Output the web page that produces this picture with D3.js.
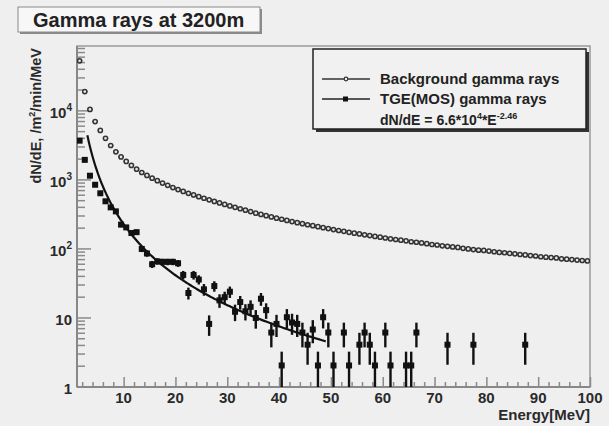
<!DOCTYPE html>
<html><head><meta charset="utf-8">
<script src="https://cdn.jsdelivr.net/npm/d3@7"></script>
<style>
html,body{margin:0;padding:0;background:#efefef;}
svg{display:block;font-family:"Liberation Sans",Arial,Helvetica,sans-serif;font-weight:bold;}
</style></head><body>
<svg id="chart" width="609" height="426"></svg>
<script>
// Background gamma-ray spectrum, 1 MeV bins
const bgEnergy = d3.range(1.5, 100, 1);
const bgFlux = [53000,19000,10500,7000,5200,4000,3150,2550,2150,1850,
  1620,1430,1280,1160,1060,975,900,835,775,725,
  680,640,605,572,542,514,488,464,441,420,
  400,382,364,348,330,316,303,291,279,269,
  259,249,240,232,224,217,210,203,197,191,
  185,180,174,169,165,160,156,152,148,144,
  140,137,134,131,127,125,122,119,116,114,
  111,109,107,105,102,100,98,96,95,93,
  91,89,88,86,85,83,82,80,79,77,
  76,75,74,72,71,70,69,68,67,66];

// TGE (MOS) gamma-ray spectrum with statistical errors
const tgeEnergy = [1.5,2.5,3.5,4.5,5.5,6.5,7.5,8.5,9.5,10.5,
  11.5,12.5,13.5,14.5,15.5,16.5,17.5,18.5,19.5,20.5,
  21.5,22.5,23.5,24.5,25.5,26.5,27.5,28.5,29.5,30.5,
  31.5,32.5,33.5,34.5,35.5,36.5,37.5,38.5,39.5,40.5,
  41.5,42.5,43.5,44.5,45.5,46.5,47.5,48.5,49.5,50.5,
  52.5,53.5,55.5,56.5,57.5,58.5,60.5,61.5,64.5,65.5,
  66.5,72.5,77.5,87.5];
const tgeFlux = [3700,1950,1150,850,640,490,400,350,225,205,
  170,175,100,86,60,66,65,65,65,62,
  42,23,42,36,26,8.2,29,18,20,24,
  12.3,17,12.5,14.5,10,19,13,6.15,8.2,2.05,
  10.25,8.6,8.2,6.15,4.1,6.8,2.05,10.25,6.15,2.05,
  6.15,2.05,4.1,6.15,4.1,2.05,6.15,2.05,2.05,2.05,
  6.15,4.1,4.1,4.1];
const tgeError = [150,80,60,45,35,30,25,22,18,16,
  14,14,10,9,7,7,7,7,7,7,
  6,4.5,6,5.5,5,2.7,5,4,4,4.5,
  3.3,3.8,3.3,3.5,3,4,3.3,2.4,2.9,1.2,
  3.2,2.9,2.9,2.4,2,2.5,1.2,3.2,2.4,1.2,
  2.4,1.2,2,2.4,2,1.2,2.4,1.2,1.2,1.2,
  2.4,2,2,2];

// Power-law fit dN/dE = 6.6*10^4 * E^-2.46
const fitNorm = 6.6e4, fitIndex = -2.46, fitRange = [3, 49];

const xTicks = [10,20,30,40,50,60,70,80,90,100];
const yTicks = [1,10,100,1000,10000];
const yTickBase = ["1","10","10","10","10"];
const yTickExp = ["","","2","3","4"];

const svg = d3.select("#chart");
const L = 77, R = 590, T = 46, B = 387;
const x = d3.scaleLinear().domain([1,100]).range([L,R]);
const y = d3.scaleLog().domain([1,8.7e4]).range([B,T]);

svg.append("rect").attr("width",609).attr("height",426).attr("fill","#efefef");

svg.append("defs").append("clipPath").attr("id","plotclip")
  .append("rect").attr("x",L).attr("y",T).attr("width",R-L).attr("height",B-T);

// frame
svg.append("rect").attr("x",L).attr("y",T).attr("width",R-L).attr("height",B-T)
  .attr("fill","#efefef").attr("stroke","#9a9a9a").attr("stroke-width",1.5);

// x axis: major ticks every 10, minor every 2 (inside)
const xAxisG = svg.append("g").attr("transform",`translate(0,${B})`);
xAxisG.call(d3.axisBottom(x).tickValues(d3.range(2,101,2)).tickSize(0).tickFormat(""));
xAxisG.select(".domain").remove();
xAxisG.selectAll(".tick line").remove();
xAxisG.selectAll(".tick").append("line")
  .attr("y1",0).attr("y2",d => xTicks.includes(d) ? -10 : -5)
  .attr("stroke","#8a8a8a").attr("stroke-width",1.5);
svg.append("g").selectAll("text").data(xTicks).join("text")
  .attr("x",d=>x(d)).attr("y",403).attr("text-anchor","middle")
  .attr("font-size",15).attr("fill","#2a2a2a").text(d=>d);

// y axis: log ticks inside
const yMinor = [];
yTicks.forEach(d => { for (let k=2;k<=9;k++){ const v=k*d; if (v<=8.7e4) yMinor.push(v);} });
const yAxisG = svg.append("g");
yAxisG.selectAll("line.minor").data(yMinor).join("line")
  .attr("x1",L).attr("x2",L+8).attr("y1",d=>y(d)).attr("y2",d=>y(d))
  .attr("stroke","#8a8a8a").attr("stroke-width",1.5);
yAxisG.selectAll("line.major").data(yTicks).join("line")
  .attr("x1",L).attr("x2",L+14).attr("y1",d=>y(d)).attr("y2",d=>y(d))
  .attr("stroke","#8a8a8a").attr("stroke-width",1.5);
const yl = yAxisG.selectAll("text").data(yTicks).join("text")
  .attr("x",72).attr("y",d=>y(d)+7).attr("text-anchor","end")
  .attr("font-size",15).attr("fill","#2a2a2a");
yl.append("tspan").text((d,i)=>yTickBase[i]);
yl.append("tspan").attr("font-size",10).attr("dy",-7).text((d,i)=>yTickExp[i]);

// axis lines
svg.append("line").attr("x1",L).attr("x2",L).attr("y1",T).attr("y2",B)
  .attr("stroke","#888").attr("stroke-width",2);
svg.append("line").attr("x1",L).attr("x2",R).attr("y1",B).attr("y2",B)
  .attr("stroke","#888").attr("stroke-width",2);

// axis titles
svg.append("text").attr("x",R).attr("y",420).attr("text-anchor","end")
  .attr("font-size",15).attr("fill","#2a2a2a").text("Energy[MeV]");
const yt = svg.append("text").attr("transform","translate(41,48) rotate(-90)")
  .attr("text-anchor","end").attr("font-size",14.5).attr("fill","#2a2a2a");
yt.append("tspan").text("dN/dE, /m");
yt.append("tspan").attr("font-size",9).attr("dy",-6).text("2");
yt.append("tspan").attr("dy",6).text("/min/MeV");

const plot = svg.append("g").attr("clip-path","url(#plotclip)");

// background spectrum: open markers with bin-width bars
const bg = bgEnergy.map((e,i)=>({e, v:bgFlux[i]}));
plot.append("g").selectAll("line").data(bg).join("line")
  .attr("x1",d=>x(d.e-0.5)).attr("x2",d=>x(d.e+0.5))
  .attr("y1",d=>y(d.v)).attr("y2",d=>y(d.v))
  .attr("stroke","#333").attr("stroke-width",1.6);
plot.append("g").selectAll("circle").data(bg).join("circle")
  .attr("cx",d=>x(d.e)).attr("cy",d=>y(d.v)).attr("r",2.1)
  .attr("fill","#e6e6e6").attr("stroke","#333").attr("stroke-width",1.5);

// fit curve
const fitPts = d3.range(fitRange[0], fitRange[1]+0.001, 0.25).map(e=>[e, fitNorm*Math.pow(e, fitIndex)]);
plot.append("path").datum(fitPts)
  .attr("d", d3.line().x(d=>x(d[0])).y(d=>y(d[1])))
  .attr("fill","none").attr("stroke","#111").attr("stroke-width",2.2);

// TGE spectrum: filled squares with error bars
const tge = tgeEnergy.map((e,i)=>({e, v:tgeFlux[i], err:tgeError[i]}));
const tg = plot.append("g");
tg.selectAll("line.ey").data(tge).join("line").attr("class","ey")
  .attr("x1",d=>x(d.e)).attr("x2",d=>x(d.e))
  .attr("y1",d=>y(Math.max(d.v-d.err,0.5))).attr("y2",d=>y(d.v+d.err))
  .attr("stroke","#111").attr("stroke-width",2.4);
tg.selectAll("line.ex").data(tge).join("line").attr("class","ex")
  .attr("x1",d=>x(d.e-0.5)).attr("x2",d=>x(d.e+0.5))
  .attr("y1",d=>y(d.v)).attr("y2",d=>y(d.v))
  .attr("stroke","#111").attr("stroke-width",1.6);
tg.selectAll("rect").data(tge).join("rect")
  .attr("x",d=>x(d.e)-3).attr("y",d=>y(d.v)-3).attr("width",6).attr("height",6)
  .attr("fill","#111");

// title box
svg.append("rect").attr("x",20).attr("y",9).attr("width",242).attr("height",25).attr("fill","#8a8a8a");
svg.append("rect").attr("x",18).attr("y",7).attr("width",242).attr("height",25)
  .attr("fill","#f7f7f7").attr("stroke","#8a8a8a").attr("stroke-width",1);
svg.append("text").attr("x",33).attr("y",27).attr("font-size",20).attr("fill","#222")
  .text("Gamma rays at 3200m");

// legend
const lg = svg.append("g");
lg.append("rect").attr("x",316).attr("y",52).attr("width",273).attr("height",80).attr("fill","#333");
lg.append("rect").attr("x",313).attr("y",49).attr("width",273).attr("height",80)
  .attr("fill","#f1f1f1").attr("stroke","#222").attr("stroke-width",1.5);
lg.append("line").attr("x1",322).attr("x2",370).attr("y1",79).attr("y2",79)
  .attr("stroke","#333").attr("stroke-width",1.5);
lg.append("circle").attr("cx",346).attr("cy",79).attr("r",1.8)
  .attr("fill","#f1f1f1").attr("stroke","#333").attr("stroke-width",1.2);
lg.append("text").attr("x",380).attr("y",84).attr("font-size",15).attr("fill","#222")
  .text("Background gamma rays");
lg.append("line").attr("x1",322).attr("x2",370).attr("y1",99).attr("y2",99)
  .attr("stroke","#222").attr("stroke-width",1.5);
lg.append("rect").attr("x",343).attr("y",96.5).attr("width",5).attr("height",5).attr("fill","#111");
lg.append("text").attr("x",380).attr("y",104).attr("font-size",15).attr("fill","#222")
  .text("TGE(MOS) gamma rays");
const ft = lg.append("text").attr("x",380).attr("y",125).attr("font-size",14).attr("fill","#222");
ft.append("tspan").text("dN/dE = 6.6*10");
ft.append("tspan").attr("font-size",9).attr("dy",-6).text("4");
ft.append("tspan").attr("dy",6).text("*E");
ft.append("tspan").attr("font-size",9).attr("dy",-6).text("-2.46");
</script>
</body></html>
